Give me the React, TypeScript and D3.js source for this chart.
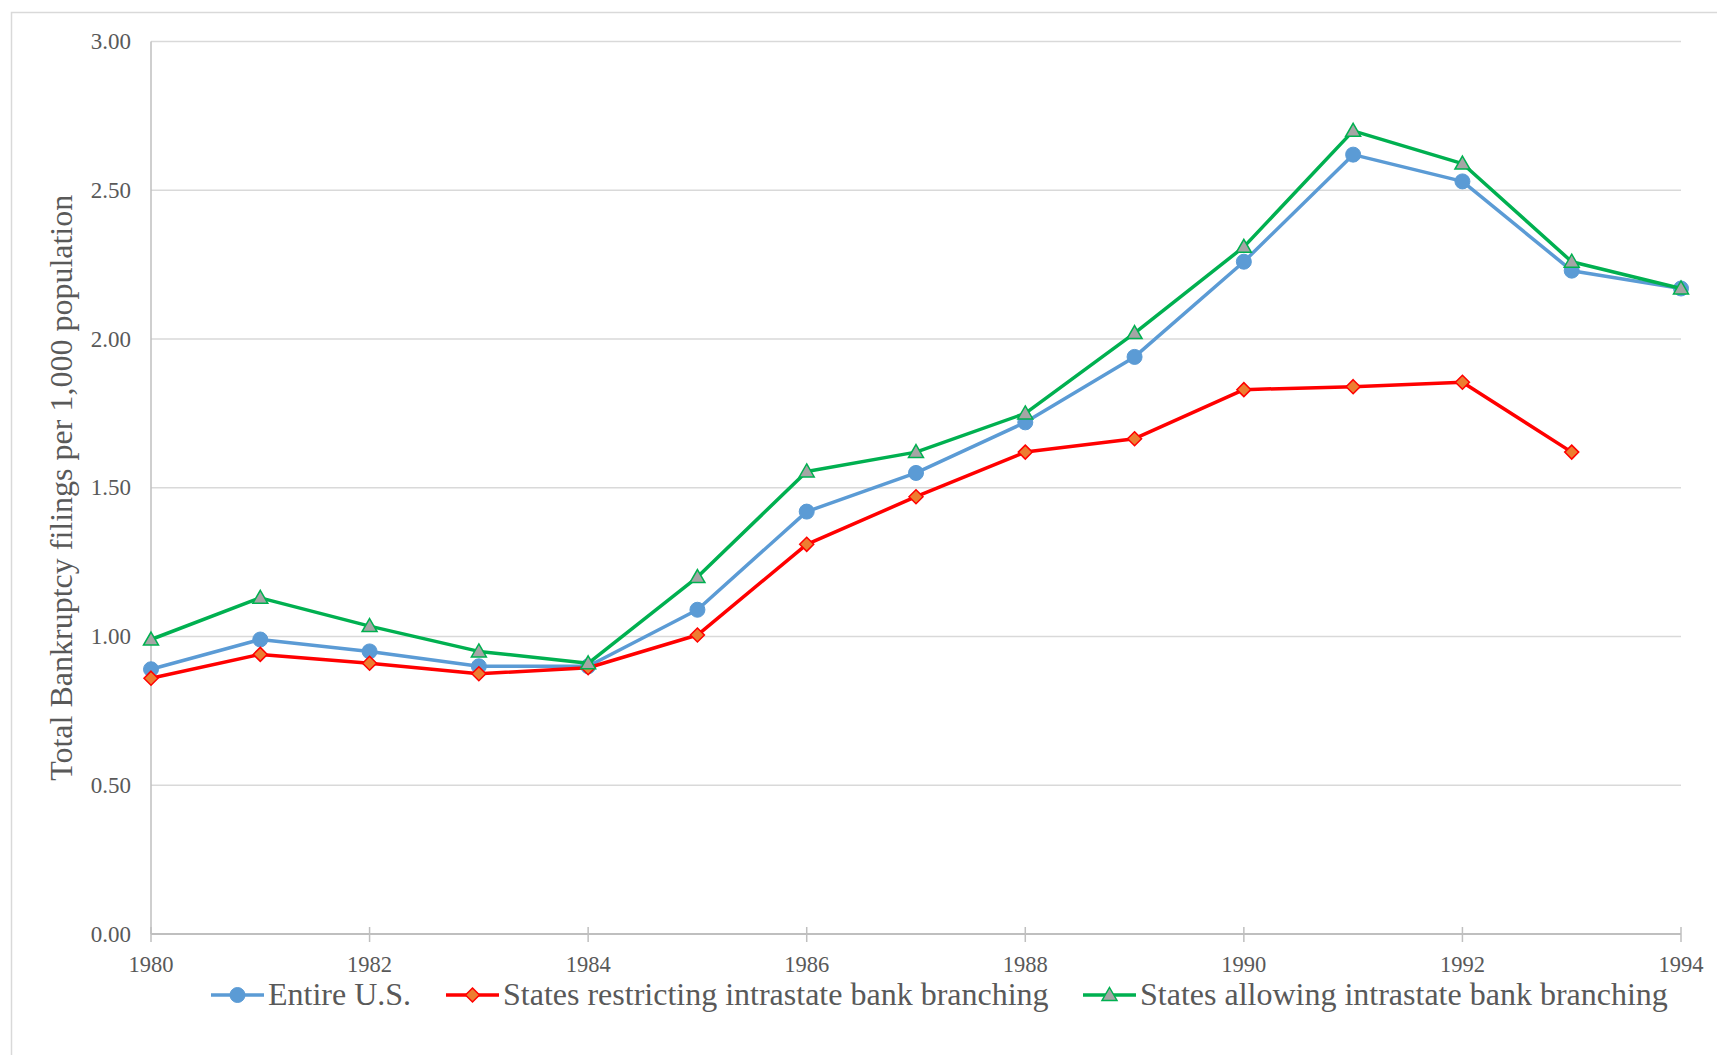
import React from "react";
import * as d3 from "d3";

const years = [1980, 1981, 1982, 1983, 1984, 1985, 1986, 1987, 1988, 1989, 1990, 1991, 1992, 1993, 1994];
const entireUS = [0.89, 0.99, 0.95, 0.9, 0.9, 1.09, 1.42, 1.55, 1.72, 1.94, 2.26, 2.62, 2.53, 2.23, 2.17];
const restricting: (number | null)[] = [0.86, 0.94, 0.91, 0.875, 0.895, 1.005, 1.31, 1.47, 1.62, 1.665, 1.83, 1.84, 1.855, 1.62, null];
const allowing = [0.99, 1.13, 1.035, 0.95, 0.91, 1.2, 1.555, 1.62, 1.75, 2.02, 2.31, 2.7, 2.59, 2.26, 2.17];
const yTicks = [0, 0.5, 1, 1.5, 2, 2.5, 3];
const xTicks = [1980, 1982, 1984, 1986, 1988, 1990, 1992, 1994];
const seriesNames = ["Entire U.S.", "States restricting intrastate bank branching", "States allowing intrastate bank branching"];

const W = 1717, H = 1055;
const left = 151, right = 1681, top = 41.6, bottom = 934;
const textColor = "#595959";
const font = "'Liberation Serif', 'Times New Roman', serif";

type Kind = "circle" | "diamond" | "triangle";
const styles: { color: string; fill: string; kind: Kind }[] = [
  { color: "#5B9BD5", fill: "#5B9BD5", kind: "circle" },
  { color: "#FF0000", fill: "#ED7D31", kind: "diamond" },
  { color: "#00B050", fill: "#A5A5A5", kind: "triangle" },
];

function Marker({ kind, x, y, color, fill }: { kind: Kind; x: number; y: number; color: string; fill: string }) {
  if (kind === "circle") return <circle cx={x} cy={y} r={7.5} fill={fill} stroke={color} strokeWidth={1} />;
  if (kind === "diamond") {
    const s = 7;
    return <path d={`M${x},${y - s}L${x + s},${y}L${x},${y + s}L${x - s},${y}Z`} fill={fill} stroke={color} strokeWidth={1.5} />;
  }
  const s = 7.5;
  return <path d={`M${x},${y - 7.5}L${x + s},${y + 5.5}L${x - s},${y + 5.5}Z`} fill={fill} stroke={color} strokeWidth={1.5} />;
}

export default function App() {
  const x = d3.scaleLinear().domain([1980, 1994]).range([left, right]);
  const y = d3.scaleLinear().domain([0, 3]).range([bottom, top]);
  const allSeries = [entireUS, restricting, allowing];

  const line = d3
    .line<number | null>()
    .defined((d) => d !== null)
    .x((_, i) => x(years[i]))
    .y((d) => y(d as number));

  const legendX = [211, 446, 1083];
  const legendY = 995;

  return (
    <div style={{ position: "absolute", left: 0, top: 0 }}>
      <svg width={W} height={H} style={{ display: "block", background: "#fff" }}>
        <rect x={11.5} y={12.5} width={W} height={H} fill="#fff" stroke="#D9D9D9" strokeWidth={1.5} />
        {/* gridlines */}
        {yTicks.filter((t) => t > 0).map((t) => (
          <line key={t} x1={left} x2={right} y1={y(t)} y2={y(t)} stroke="#D9D9D9" strokeWidth={1.5} />
        ))}
        {/* y axis line */}
        <line x1={left} x2={left} y1={top} y2={bottom} stroke="#BFBFBF" strokeWidth={1.5} />
        {/* x axis */}
        <line x1={left} x2={right} y1={bottom} y2={bottom} stroke="#BFBFBF" strokeWidth={2} />
        {xTicks.map((t) => (
          <line key={t} x1={x(t)} x2={x(t)} y1={bottom - 7} y2={bottom + 8} stroke="#BFBFBF" strokeWidth={1.5} />
        ))}
        {/* y tick labels */}
        {yTicks.map((t) => (
          <text key={t} x={131} y={y(t) + 7.5} textAnchor="end" fontFamily={font} fontSize={23} fill={textColor}>
            {t.toFixed(2)}
          </text>
        ))}
        {/* x tick labels */}
        {xTicks.map((t) => (
          <text key={t} x={x(t)} y={972} textAnchor="middle" fontFamily={font} fontSize={22.5} fill={textColor}>
            {t}
          </text>
        ))}
        {/* y axis title */}
        <text
          transform={`translate(72,${(top + bottom) / 2}) rotate(-90)`}
          textAnchor="middle"
          fontFamily={font}
          fontSize={32}
          fill={textColor}
        >
          Total Bankruptcy filings per 1,000 population
        </text>
        {/* series */}
        {allSeries.map((s, si) => (
          <g key={si}>
            <path d={line(s) || ""} fill="none" stroke={styles[si].color} strokeWidth={3.5} strokeLinejoin="round" />
            {s.map((v, i) =>
              v === null ? null : (
                <Marker key={i} kind={styles[si].kind} x={x(years[i])} y={y(v)} color={styles[si].color} fill={styles[si].fill} />
              )
            )}
          </g>
        ))}
        {/* legend */}
        {seriesNames.map((name, i) => (
          <g key={name}>
            <line x1={legendX[i]} x2={legendX[i] + 53} y1={legendY} y2={legendY} stroke={styles[i].color} strokeWidth={3.5} />
            <Marker kind={styles[i].kind} x={legendX[i] + 26.5} y={legendY} color={styles[i].color} fill={styles[i].fill} />
            <text x={legendX[i] + 57} y={1005} fontFamily={font} fontSize={32} fill={textColor}>
              {name}
            </text>
          </g>
        ))}
      </svg>
    </div>
  );
}
